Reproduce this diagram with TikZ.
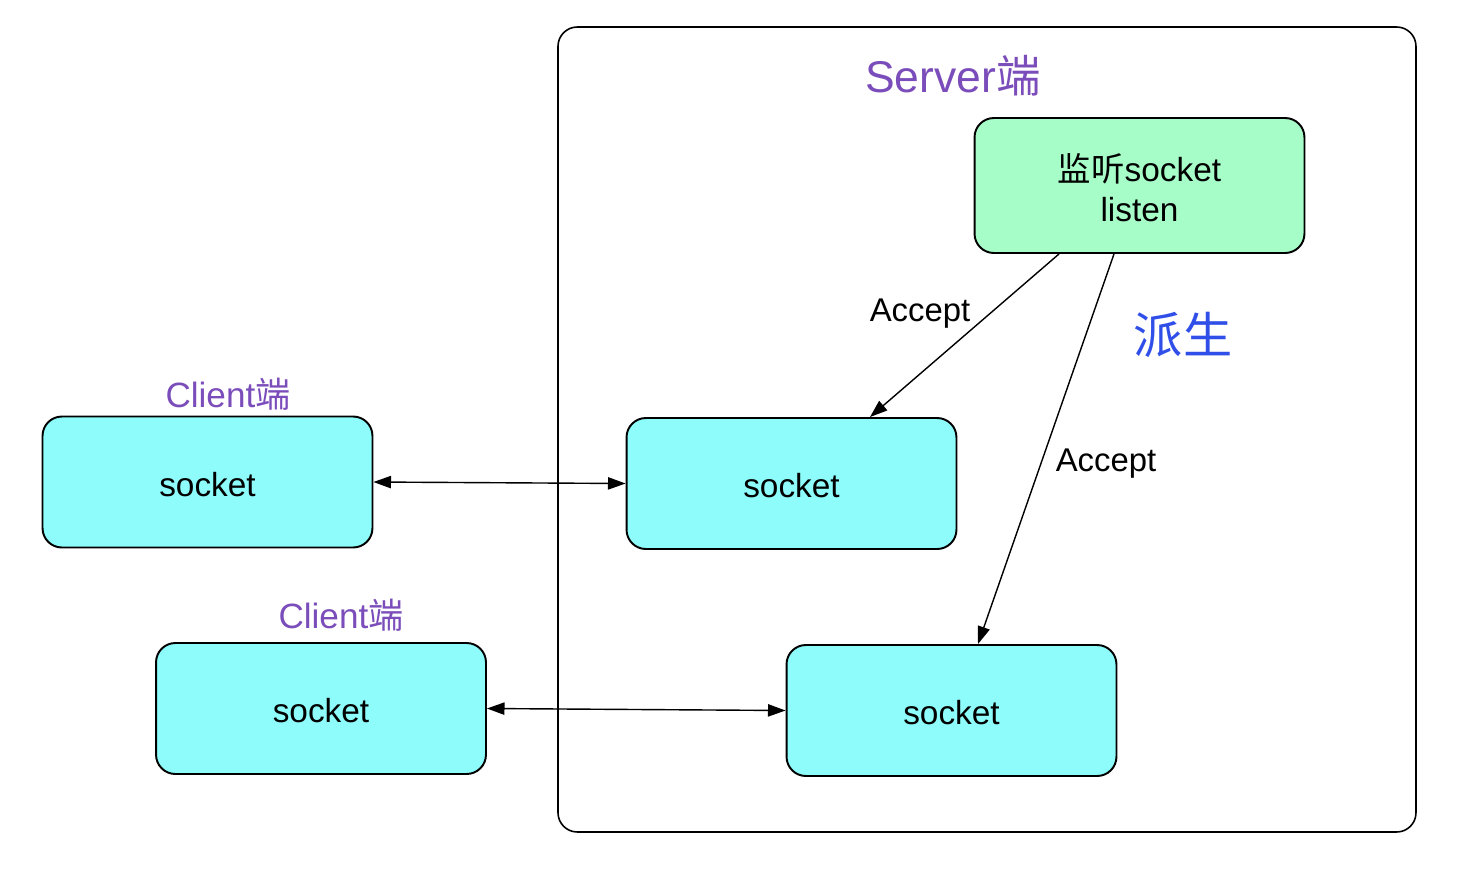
\documentclass[tikz,border=0pt]{standalone}
\usepackage{fontspec}
\setmainfont{Liberation Sans}
\newfontfamily\cjk{Noto Sans CJK SC}
\usetikzlibrary{arrows.meta}
\definecolor{sockfill}{RGB}{143,252,252}
\definecolor{listenfill}{RGB}{167,253,200}
\definecolor{labpurple}{RGB}{123,77,186}
\definecolor{labblue}{RGB}{47,79,232}
\begin{document}
\begin{tikzpicture}[x=0.02cm,y=-0.02cm,
  sockbox/.style={draw=black,line width=1.1pt,rounded corners=11pt,fill=sockfill,
    minimum width=6.6cm,minimum height=2.62cm,inner sep=0pt,text height=16.6pt,
    font=\fontsize{19}{23}\selectfont},
  listenbox/.style={draw=black,line width=1.1pt,rounded corners=11pt,fill=listenfill,
    minimum width=6.6cm,minimum height=2.7cm,inner sep=0pt,
    font=\fontsize{19}{23}\selectfont},
  conn/.style={line width=0.8pt,-{Triangle[length=10pt,width=7pt]}},
  dconn/.style={line width=0.8pt,{Triangle[length=10pt,width=7pt]}-{Triangle[length=10pt,width=7pt]}},
  acclab/.style={font=\fontsize{18.7}{22}\selectfont},
  clab/.style={text=labpurple,font=\fontsize{20}{24}\selectfont}
]
\useasboundingbox (0,0) rectangle (1482,880);
\draw[line width=0.9pt,rounded corners=11pt] (558,27) rectangle (1416,832);
\node[text=labpurple,font=\fontsize{25.3}{30}\selectfont] (srvlab) at (953,76) {Server{\cjk 端}};
\node[listenbox] (listen) at (1139.5,185.5) {\raisebox{-4.5pt}[\height][\depth]{\begin{tabular}{@{}c@{}}{\cjk 监听}socket\\listen\end{tabular}}};
\node[sockbox] (s1) at (791.5,483.5) {socket};
\node[sockbox] (s2) at (951.5,710.5) {socket};
\node[sockbox] (c1) at (207.5,482) {socket};
\node[sockbox] (c2) at (321,708.5) {socket};
\node[clab] (c1lab) at (228,394) {Client{\cjk 端}};
\node[clab] (c2lab) at (341,615) {Client{\cjk 端}};
\node[acclab] (acc1) at (920,314) {Accept};
\node[acclab] (acc2) at (1106,464) {Accept};
\node[text=labblue,font=\cjk\fontsize{28}{32}\selectfont] (derive) at (1183,335) {派生};
\draw[conn] ([xshift=-1.61cm]listen.south) -- ([xshift=1.57cm]s1.north);
\draw[conn] ([xshift=-0.51cm]listen.south) -- ([xshift=0.53cm]s2.north);
\draw[dconn] (c1.east) -- (s1.west);
\draw[dconn] (c2.east) -- (s2.west);
\end{tikzpicture}
\end{document}
